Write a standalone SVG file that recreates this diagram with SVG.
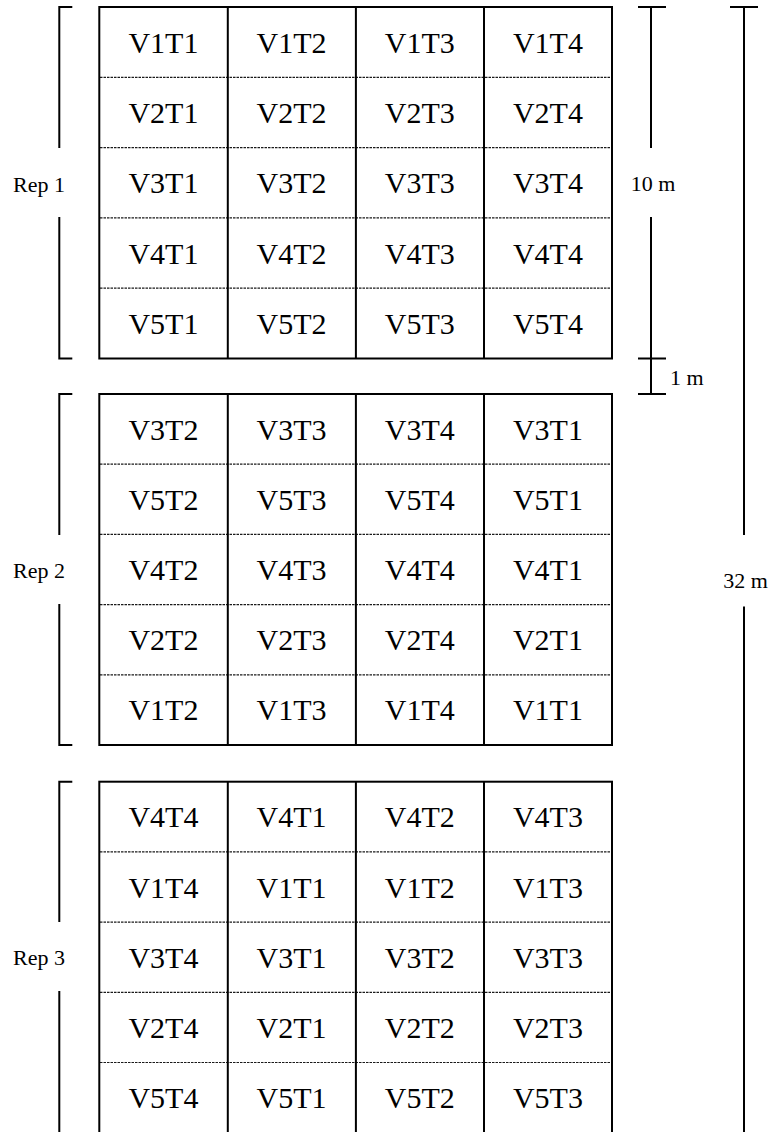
<svg xmlns="http://www.w3.org/2000/svg" width="771" height="1132" viewBox="0 0 771 1132">
<style>
.frame{fill:none;stroke:#000;stroke-width:2}
.col{stroke:#000;stroke-width:2}
.row{stroke:#1a1a1a;stroke-width:1.2;stroke-dasharray:2.5,1}
.dim{stroke:#000;stroke-width:2;fill:none}
.cell text{font-family:"Liberation Serif","Times New Roman",serif;font-size:30px;fill:#000;text-anchor:middle}
.lbl{font-family:"Liberation Serif","Times New Roman",serif;font-size:22px;fill:#000}
</style>
<rect width="771" height="1132" fill="#fff"/>

<g id="rep1">
<g class="grid">
<line class="row" x1="100" y1="77.3" x2="611" y2="77.3"/>
<line class="row" x1="100" y1="147.6" x2="611" y2="147.6"/>
<line class="row" x1="100" y1="217.9" x2="611" y2="217.9"/>
<line class="row" x1="100" y1="288.2" x2="611" y2="288.2"/>
<line class="col" x1="227.8" y1="7" x2="227.8" y2="358.5"/>
<line class="col" x1="355.9" y1="7" x2="355.9" y2="358.5"/>
<line class="col" x1="484" y1="7" x2="484" y2="358.5"/>
<rect class="frame" x="99.3" y="7" width="512.7" height="351.5"/>
</g>
<g class="cell">
<text x="163.4" y="52.7">V1T1</text><text x="291.6" y="52.7">V1T2</text><text x="419.8" y="52.7">V1T3</text><text x="547.9" y="52.7">V1T4</text>
<text x="163.4" y="123">V2T1</text><text x="291.6" y="123">V2T2</text><text x="419.8" y="123">V2T3</text><text x="547.9" y="123">V2T4</text>
<text x="163.4" y="193.3">V3T1</text><text x="291.6" y="193.3">V3T2</text><text x="419.8" y="193.3">V3T3</text><text x="547.9" y="193.3">V3T4</text>
<text x="163.4" y="263.6">V4T1</text><text x="291.6" y="263.6">V4T2</text><text x="419.8" y="263.6">V4T3</text><text x="547.9" y="263.6">V4T4</text>
<text x="163.4" y="333.9">V5T1</text><text x="291.6" y="333.9">V5T2</text><text x="419.8" y="333.9">V5T3</text><text x="547.9" y="333.9">V5T4</text>
</g>
</g>

<g id="rep2">
<g class="grid">
<line class="row" x1="100" y1="464.2" x2="611" y2="464.2"/>
<line class="row" x1="100" y1="534.4" x2="611" y2="534.4"/>
<line class="row" x1="100" y1="604.6" x2="611" y2="604.6"/>
<line class="row" x1="100" y1="674.8" x2="611" y2="674.8"/>
<line class="col" x1="227.8" y1="394" x2="227.8" y2="745"/>
<line class="col" x1="355.9" y1="394" x2="355.9" y2="745"/>
<line class="col" x1="484" y1="394" x2="484" y2="745"/>
<rect class="frame" x="99.3" y="394" width="512.7" height="351"/>
</g>
<g class="cell">
<text x="163.4" y="439.6">V3T2</text><text x="291.6" y="439.6">V3T3</text><text x="419.8" y="439.6">V3T4</text><text x="547.9" y="439.6">V3T1</text>
<text x="163.4" y="509.8">V5T2</text><text x="291.6" y="509.8">V5T3</text><text x="419.8" y="509.8">V5T4</text><text x="547.9" y="509.8">V5T1</text>
<text x="163.4" y="580">V4T2</text><text x="291.6" y="580">V4T3</text><text x="419.8" y="580">V4T4</text><text x="547.9" y="580">V4T1</text>
<text x="163.4" y="650.2">V2T2</text><text x="291.6" y="650.2">V2T3</text><text x="419.8" y="650.2">V2T4</text><text x="547.9" y="650.2">V2T1</text>
<text x="163.4" y="720.4">V1T2</text><text x="291.6" y="720.4">V1T3</text><text x="419.8" y="720.4">V1T4</text><text x="547.9" y="720.4">V1T1</text>
</g>
</g>

<g id="rep3">
<g class="grid">
<line class="row" x1="100" y1="851.9" x2="611" y2="851.9"/>
<line class="row" x1="100" y1="922.1" x2="611" y2="922.1"/>
<line class="row" x1="100" y1="992.3" x2="611" y2="992.3"/>
<line class="row" x1="100" y1="1062.5" x2="611" y2="1062.5"/>
<line class="col" x1="227.8" y1="781.7" x2="227.8" y2="1134"/>
<line class="col" x1="355.9" y1="781.7" x2="355.9" y2="1134"/>
<line class="col" x1="484" y1="781.7" x2="484" y2="1134"/>
<rect class="frame" x="99.3" y="781.7" width="512.7" height="351.6"/>
</g>
<g class="cell">
<text x="163.4" y="827.3">V4T4</text><text x="291.6" y="827.3">V4T1</text><text x="419.8" y="827.3">V4T2</text><text x="547.9" y="827.3">V4T3</text>
<text x="163.4" y="897.5">V1T4</text><text x="291.6" y="897.5">V1T1</text><text x="419.8" y="897.5">V1T2</text><text x="547.9" y="897.5">V1T3</text>
<text x="163.4" y="967.7">V3T4</text><text x="291.6" y="967.7">V3T1</text><text x="419.8" y="967.7">V3T2</text><text x="547.9" y="967.7">V3T3</text>
<text x="163.4" y="1037.9">V2T4</text><text x="291.6" y="1037.9">V2T1</text><text x="419.8" y="1037.9">V2T2</text><text x="547.9" y="1037.9">V2T3</text>
<text x="163.4" y="1108.1">V5T4</text><text x="291.6" y="1108.1">V5T1</text><text x="419.8" y="1108.1">V5T2</text><text x="547.9" y="1108.1">V5T3</text>
</g>
</g>

<g id="connectors">
<g id="bracket-rep1">
<path class="dim" d="M72.3,7 H59.3 V148 M59.3,217 V358.5 H72.3"/>
<text class="lbl" x="39" y="192" text-anchor="middle">Rep 1</text>
</g>
<g id="bracket-rep2">
<path class="dim" d="M72.3,394 H59.3 V535 M59.3,604 V745 H72.3"/>
<text class="lbl" x="39" y="578" text-anchor="middle">Rep 2</text>
</g>
<g id="bracket-rep3">
<path class="dim" d="M72.3,781.7 H59.3 V922 M59.3,991 V1134"/>
<text class="lbl" x="39" y="965" text-anchor="middle">Rep 3</text>
</g>
<g id="dim-10m">
<path class="dim" d="M638,7 H666 M651,7 V148 M651,217 V394 M638,358.5 H666 M638,394 H666"/>
<text class="lbl" x="653" y="191" text-anchor="middle">10 m</text>
<text class="lbl" x="670" y="384.5">1 m</text>
</g>
<g id="dim-32m">
<path class="dim" d="M730,7 H758 M744,7 V535 M744,606.5 V1134"/>
<text class="lbl" x="745.5" y="587.5" text-anchor="middle">32 m</text>
</g>
</g>
</svg>
